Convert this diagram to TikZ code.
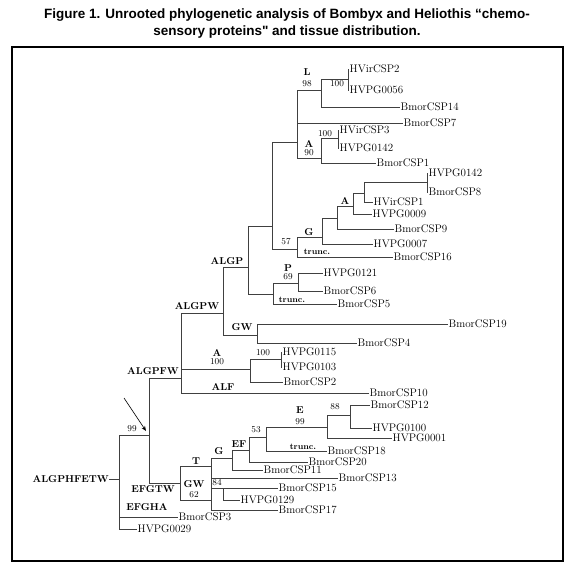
\documentclass[tikz,border=0pt]{standalone}
\usepackage{fontspec}
\newfontfamily\titlefont{Liberation Sans}
\usetikzlibrary{arrows.meta}
\begin{document}
\begin{tikzpicture}[x=1pt,y=-1pt,
    leaf/.style={anchor=west,inner xsep=0.5pt,inner ysep=0pt,font=\fontsize{11}{13}\selectfont},
    clade/.style={inner sep=0pt,font=\fontsize{10}{12}\selectfont\bfseries},
    boot/.style={inner sep=0pt,font=\fontsize{9}{11}\selectfont},
    trunc/.style={inner sep=0pt,font=\fontsize{8.5}{10}\selectfont\bfseries},
    br/.style={draw=black!75,line width=0.8pt}]
    \useasboundingbox (0,0) rectangle (574,579);
    % titre et cadre
    \node[align=center,font=\titlefont\bfseries\fontsize{13.5}{17}\selectfont] (title) at (287,24)
        {Figure 1. Unrooted phylogenetic analysis of Bombyx and Heliothis “chemo-\\sensory proteins" and tissue distribution.};
    \draw[line width=2pt] (12,47) rectangle (563,561);
    % noeuds internes
    \foreach \nm/\x/\y in {root/119/479,n99/149/435,algpfw/181/378,algpw/223/313,algp/248/267,
        big/272/226,upper/297/142,nL/321/90,nLa/348/79,nA/321/158,nAa/338/138,n57/297/249,
        nG/322/237,nAb/337/218,nAc/353/206,nAd/364/193,nAe/427/182,nPT/273/294,nP/298/283,
        nGW/257/335,nAf/250/369,nAg/281/359,efgtw/180/483,nT/211/466,nGWb/211/500,
        nGb/232/458,nEF/249/450,n53/266/437,nE/327/427,n88/350/415,n84/223/488}
        \coordinate (\nm) at (\x,\y);
    % feuilles
    \foreach \nm/\x/\y/\txt in {hvir2/349/69/HVirCSP2,hv56/349/90/HVPG0056,bm14/400/107/BmorCSP14,
        bm7/403/123/BmorCSP7,hvir3/339/130/HVirCSP3,hv142a/339/148/HVPG0142,bm1/376/163/BmorCSP1,
        hv142b/428/173/HVPG0142,bm8/428/192/BmorCSP8,hvir1/373/202/HVirCSP1,hv9/372/214/HVPG0009,
        bm9/394/229/BmorCSP9,hv7/373/244/HVPG0007,bm16/393/257/BmorCSP16,hv121/323/273/HVPG0121,
        bm6/323/291/BmorCSP6,bm5/337/304/BmorCSP5,bm19/448/324/BmorCSP19,bm4/357/343/BmorCSP4,
        hv115/282/352/HVPG0115,hv103/282/367/HVPG0103,bm2/283/382/BmorCSP2,bm10/369/393/BmorCSP10,
        bm12/370/405/BmorCSP12,hv100/372/428/HVPG0100,hv1/392/438/HVPG0001,bm18/327/451/BmorCSP18,
        bm20/308/462/BmorCSP20,bm11/263/470/BmorCSP11,bm13/338/478/BmorCSP13,bm15/278/488/BmorCSP15,
        hv129/240/500/HVPG0129,bm17/278/510/BmorCSP17,bm3/178/517/BmorCSP3,hv29/137/529/HVPG0029}
        \node[leaf] (\nm) at (\x,\y) {\txt};
    % branches
    \foreach \p/\c in {root/n99,n99/algpfw,n99/efgtw,algpfw/algpw,algpfw/nAf,algpw/algp,algpw/nGW,
        algp/big,algp/nPT,big/upper,big/n57,upper/nL,upper/nA,nL/nLa,nA/nAa,n57/nG,nG/nAb,
        nAb/nAc,nAc/nAd,nAd/nAe,nPT/nP,nAf/nAg,efgtw/nT,efgtw/nGWb,nT/nGb,nT/n84,nGb/nEF,
        nEF/n53,n53/nE,nE/n88}
        \draw[br] (\p) |- (\c);
    \foreach \p/\c in {nLa/hvir2,nLa/hv56,nL/bm14,upper/bm7,nAa/hvir3,nAa/hv142a,nA/bm1,
        nAe/hv142b,nAe/bm8,nAd/hvir1,nAc/hv9,nAb/bm9,nG/hv7,n57/bm16,nP/hv121,nP/bm6,nPT/bm5,
        nGW/bm19,nGW/bm4,nAg/hv115,nAg/hv103,nAf/bm2,algpfw/bm10,n88/bm12,n88/hv100,nE/hv1,
        n53/bm18,nEF/bm20,nGb/bm11,nT/bm13,n84/bm15,n84/hv129,nT/bm17,root/bm3,root/hv29}
        \draw[br] (\p) |- (\c.west);
    % racine
    \node[clade,anchor=east] (rootlab) at (109,479) {ALGPHFETW};
    \draw[br] (rootlab.east) -- (root);
    % noms des clades
    \foreach \nm/\x/\y/\txt in {cALGP/227/261/ALGP,cALGPW/197/306/ALGPW,cGW/242/327/GW,cALF/223/387/ALF,
        cALGPFW/153/371/ALGPFW,cEFGTW/153/489/EFGTW,cEFGHA/147/507/EFGHA,cGWb/194/484/GW,
        cEF/239/444/EF,cT/196/461/T,cGb/219/451/G,cG/309/232/G,cE/300/410/E,cL/307/72/L,
        cA/309/144/A,cAb/345/201/A,cP/288/268/P,cAf/217/353/A}
        \node[clade] (\nm) at (\x,\y) {\txt};
    % valeurs bootstrap
    \foreach \nm/\x/\y/\txt in {b98/307/84/98,b100a/337/84/100,b100b/325/134/100,b90/309/153/90,
        b57/286/242/57,b69/288/277/69,b100c/217/362/100,b100d/263/353/100,b99a/132/429/99,
        b62/194/495/62,b53/256/430/53,b99b/300/422/99,b88/335/407/88,b84/217/483/84}
        \node[boot] (\nm) at (\x,\y) {\txt};
    \foreach \nm/\x/\y in {tra/317/252,trb/292/300,trc/303/447}
        \node[trunc] (\nm) at (\x,\y) {trunc.};
    % fleche
    \coordinate (arrtail) at (124,398);
    \coordinate (arrtip) at (146,431);
    \draw[-{Stealth[length=5pt,width=4pt]},line width=0.6pt] (arrtail) -- (arrtip);
\end{tikzpicture}
\end{document}
